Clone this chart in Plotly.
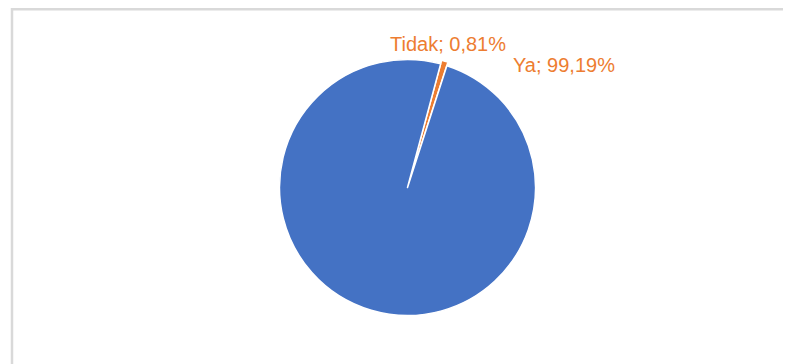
import plotly.graph_objects as go

labels = ["Tidak", "Ya"]
values = [0.81, 99.19]
label_text = ["Tidak; 0,81%", "Ya; 99,19%"]
colors = ["#ED7D31", "#4472C4"]

W, H = 791, 364
OFF = 8  # page body margin
cx, cy, r = 407.5 - OFF, 187.5 - OFF, 128
pull = 0.03
R = r * (1 + pull)

fig = go.Figure(go.Pie(
    labels=labels,
    values=values,
    sort=False,
    direction="clockwise",
    rotation=15,
    pull=[pull, 0],
    marker=dict(colors=colors, line=dict(color="white", width=1.5)),
    textinfo="none",
    hoverinfo="label+percent",
    showlegend=False,
    domain=dict(x=[(cx - R) / W, (cx + R) / W],
                y=[(H - cy - R) / H, (H - cy + R) / H]),
))

label_pos = [(388 - OFF, 44 - OFF), (511 - OFF, 65 - OFF)]
for txt, (lx, ly) in zip(label_text, label_pos):
    fig.add_annotation(
        text=txt, x=lx / W, y=1 - ly / H, xref="paper", yref="paper",
        xanchor="left", yanchor="middle", showarrow=False,
        font=dict(family="Liberation Sans", size=20, color="#ED7D31"),
    )

fig.add_shape(type="rect", xref="paper", yref="paper",
              x0=4 / W, x1=1.01, y0=-0.05, y1=1 - 1.3 / H,
              line=dict(color="#D9D9D9", width=2.5), fillcolor="rgba(0,0,0,0)")

fig.update_layout(
    width=W, height=H,
    margin=dict(l=0, r=0, t=0, b=0),
    paper_bgcolor="white", plot_bgcolor="white",
)

fig.write_html("out.html")
